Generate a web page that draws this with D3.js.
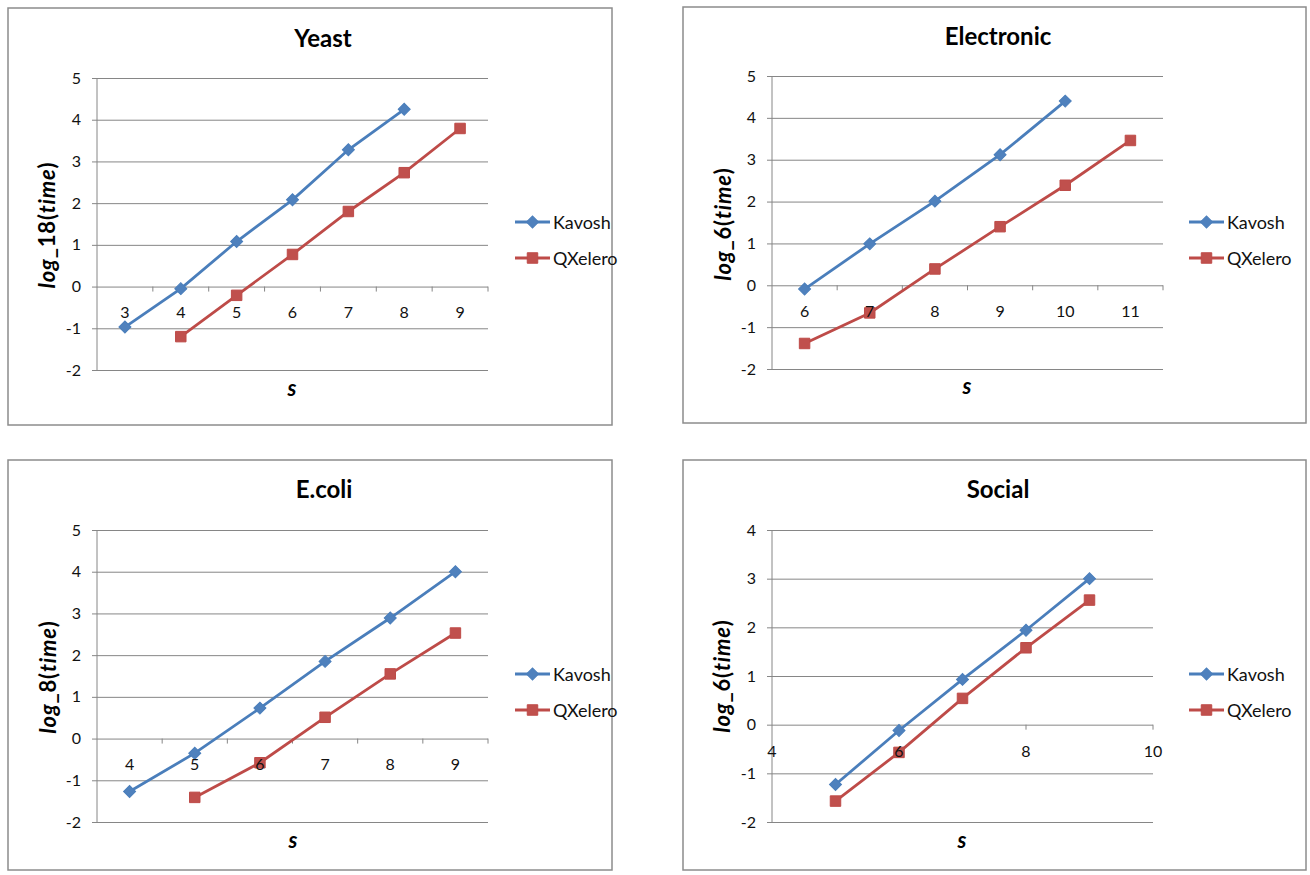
<!DOCTYPE html>
<html>
<head>
<meta charset="utf-8">
<script src="https://cdn.jsdelivr.net/npm/d3@7"></script>
<style>
  body { margin: 0; background: #fff; }
  svg { display: block; font-family: Lato, "Open Sans", sans-serif; }
</style>
</head>
<body>
<svg id="chart" width="1310" height="875"></svg>
<script>
// ---- data ----
var seriesNames = ["Kavosh", "QXelero"];

var yeastS = [3, 4, 5, 6, 7, 8, 9];
var yeastKavosh = [-0.97, -0.05, 1.08, 2.08, 3.28, 4.25, null];
var yeastQXelero = [null, -1.2, -0.21, 0.77, 1.8, 2.73, 3.79];

var electronicS = [6, 7, 8, 9, 10, 11];
var electronicKavosh = [-0.09, 0.99, 2.01, 3.12, 4.4, null];
var electronicQXelero = [-1.39, -0.66, 0.39, 1.4, 2.39, 3.46];

var ecoliS = [4, 5, 6, 7, 8, 9];
var ecoliKavosh = [-1.27, -0.35, 0.73, 1.85, 2.89, 4.0];
var ecoliQXelero = [null, -1.41, -0.58, 0.51, 1.55, 2.53];

var socialS = [5, 6, 7, 8, 9];
var socialKavosh = [-1.23, -0.12, 0.93, 1.94, 3.0];
var socialQXelero = [-1.57, -0.57, 0.54, 1.58, 2.56];

var yTicks = [-2, -1, 0, 1, 2, 3, 4, 5];
var socialYTicks = [-2, -1, 0, 1, 2, 3, 4];
var socialXTicks = [4, 6, 8, 10];

// ---- styling ----
var blue = "#4A7EBB", blueFill = "#4F81BD";
var red = "#BE4B48", redFill = "#C0504D";
var grey = "#868686";

var svg = d3.select("#chart");

var panels = [
  { title: "Yeast", base: "18", cats: yeastS, k: yeastKavosh, q: yeastQXelero, yt: yTicks,
    box: [8, 8, 604, 417], l: 97, r: 488, top: 78, bot: 370,
    tx: 323, ty: 47, yx: 46, yy: 225, sx: 292, sy: 396, lx: 515, ly: 222 },
  { title: "Electronic", base: "6", cats: electronicS, k: electronicKavosh, q: electronicQXelero, yt: yTicks,
    box: [683, 7, 623, 416], l: 772, r: 1163, top: 76, bot: 369,
    tx: 998, ty: 45, yx: 722, yy: 224, sx: 967, sy: 394, lx: 1189, ly: 222 },
  { title: "E.coli", base: "8", cats: ecoliS, k: ecoliKavosh, q: ecoliQXelero, yt: yTicks,
    box: [8, 460, 604, 410], l: 97, r: 488, top: 530, bot: 822,
    tx: 324, ty: 498, yx: 47, yy: 677, sx: 293, sy: 848, lx: 515, ly: 674 },
  { title: "Social", base: "6", xs: socialS, k: socialKavosh, q: socialQXelero, yt: socialYTicks,
    xt: socialXTicks, box: [683, 460, 623, 410], l: 772, r: 1153, top: 530, bot: 822,
    tx: 998, ty: 498, yx: 721, yy: 676, sx: 962, sy: 848, lx: 1189, ly: 674 }
];

var diamond = d3.symbol().type(d3.symbolSquare).size(72);
var square = d3.symbol().type(d3.symbolSquare).size(110);

panels.forEach(function(p) {
  var g = svg.append("g");

  g.append("rect")
      .attr("x", p.box[0]).attr("y", p.box[1])
      .attr("width", p.box[2]).attr("height", p.box[3])
      .attr("fill", "#fff").attr("stroke", "#8c8c8c").attr("stroke-width", 1.5);

  var y = d3.scaleLinear()
      .domain(d3.extent(p.yt))
      .range([p.bot, p.top]);

  var x, xs, boundaries;
  if (p.cats) {
    x = d3.scaleBand().domain(p.cats).range([p.l, p.r]).padding(0);
    xs = function(i) { return x(p.cats[i]) + x.bandwidth() / 2; };
    boundaries = p.cats.map(function(c) { return x(c); }).slice(1).concat([p.r]);
  } else {
    x = d3.scaleLinear().domain(d3.extent(p.xt)).range([p.l, p.r]);
    xs = function(i) { return x(p.xs[i]); };
    boundaries = p.xt.slice(1).map(function(v) { return x(v); });
  }

  // gridlines
  g.append("g")
      .attr("transform", "translate(" + p.l + ",0)")
      .call(d3.axisLeft(y).tickValues(p.yt).tickSize(-(p.r - p.l)).tickFormat(""))
      .call(function(a) {
        a.select(".domain").remove();
        a.selectAll("line").attr("stroke", grey).attr("stroke-width", 1);
      });

  // y axis
  g.append("g")
      .attr("transform", "translate(" + p.l + ",0)")
      .call(d3.axisLeft(y).tickValues(p.yt).tickSize(5).tickPadding(11)
        .tickFormat(function(d) { return String(d); }))
      .call(function(a) {
        a.select(".domain").attr("stroke", grey).attr("d", "M0," + p.top + "V" + p.bot);
        a.selectAll("line").attr("stroke", grey);
        a.selectAll("text").attr("fill", "#111").style("font-size", "16px")
            .style("font-family", "Lato, sans-serif");
      });

  // x axis ticks (at boundaries, hanging below the zero line)
  g.append("g").selectAll("line")
    .data(boundaries)
    .join("line")
      .attr("x1", function(d) { return d; }).attr("x2", function(d) { return d; })
      .attr("y1", y(0)).attr("y2", y(0) + 5)
      .attr("stroke", grey);

  // series
  var series = [
    { vals: p.k, color: blue, fill: blueFill, sym: diamond, rot: 45 },
    { vals: p.q, color: red, fill: redFill, sym: square, rot: 0 }
  ];
  series.forEach(function(s) {
    var pts = s.vals.map(function(v, i) { return { i: i, v: v }; })
        .filter(function(d) { return d.v != null; });
    g.append("path")
        .datum(pts)
        .attr("fill", "none")
        .attr("stroke", s.color)
        .attr("stroke-width", 2.8)
        .attr("d", d3.line().x(function(d) { return xs(d.i); }).y(function(d) { return y(d.v); }));
    g.selectAll(null)
      .data(pts)
      .join("path")
        .attr("d", s.sym)
        .attr("transform", function(d) {
          return "translate(" + xs(d.i) + "," + y(d.v) + ") rotate(" + s.rot + ")";
        })
        .attr("fill", s.fill)
        .attr("stroke", s.color)
        .attr("stroke-width", 1);
  });

  // x labels drawn over the series, as in the original
  var xlabels = p.cats
      ? p.cats.map(function(c) { return { t: c, x: x(c) + x.bandwidth() / 2 }; })
      : p.xt.map(function(v) { return { t: v, x: x(v) }; });
  g.append("g").selectAll("text")
    .data(xlabels)
    .join("text")
      .attr("x", function(d) { return d.x; })
      .attr("y", y(0) + (p.cats ? 25 : 26))
      .attr("text-anchor", "middle")
      .attr("dominant-baseline", "central")
      .attr("fill", "#111")
      .style("font-size", "16px")
      .text(function(d) { return d.t; });

  // title
  g.append("text")
      .attr("x", p.tx).attr("y", p.ty)
      .attr("text-anchor", "middle")
      .style("font-size", "24px").style("font-weight", "bold")
      .text(p.title);

  // axis titles
  var yt = g.append("text")
      .attr("transform", "translate(" + p.yx + "," + p.yy + ") rotate(-90)")
      .attr("text-anchor", "middle")
      .attr("dominant-baseline", "central")
      .style("font-size", "22px").style("font-weight", "bold")
      .style("letter-spacing", "0.8px");
  yt.append("tspan").style("font-style", "italic").text("log");
  yt.append("tspan").text("_" + p.base + "(");
  yt.append("tspan").style("font-style", "italic").text("time");
  yt.append("tspan").text(")");

  g.append("text")
      .attr("x", p.sx).attr("y", p.sy)
      .attr("text-anchor", "middle")
      .style("font-size", "22px").style("font-weight", "bold").style("font-style", "italic")
      .text("s");

  // legend
  var leg = g.append("g").selectAll("g")
    .data(series)
    .join("g")
      .attr("transform", function(d, i) { return "translate(" + p.lx + "," + (p.ly + i * 36) + ")"; });
  leg.append("line")
      .attr("x1", 0).attr("x2", 35)
      .attr("stroke", function(d) { return d.color; })
      .attr("stroke-width", 2.8);
  leg.append("path")
      .attr("d", function(d) { return d.sym(); })
      .attr("transform", function(d) { return "translate(17.5,0) rotate(" + d.rot + ")"; })
      .attr("fill", function(d) { return d.fill; })
      .attr("stroke", function(d) { return d.color; });
  leg.append("text")
      .attr("x", 38)
      .attr("dominant-baseline", "central")
      .style("font-size", "18px")
      .attr("fill", "#111")
      .text(function(d, i) { return seriesNames[i]; });
});
</script>
</body>
</html>
